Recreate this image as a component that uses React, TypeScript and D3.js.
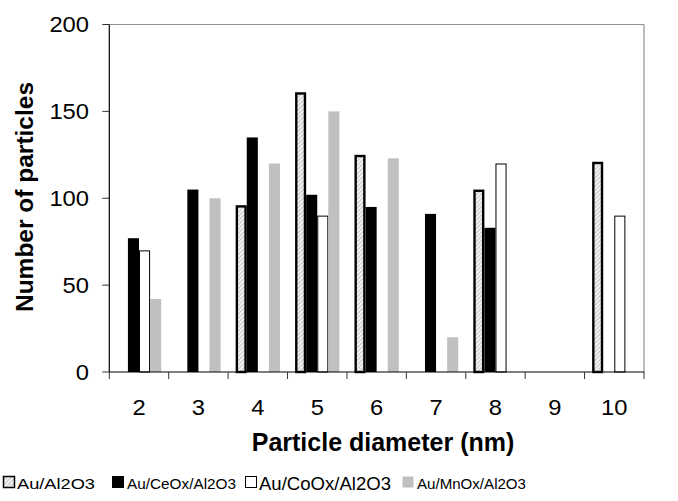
import React from "react";
import * as d3 from "d3";

// Particle size distribution for four gold catalysts
const diameters = ["2", "3", "4", "5", "6", "7", "8", "9", "10"];
const seriesNames = ["Au/Al2O3", "Au/CeOx/Al2O3", "Au/CoOx/Al2O3", "Au/MnOx/Al2O3"];
const auAl2O3 = [0, 0, 96, 161, 125, 0, 105, 0, 121];
const auCeOx = [77, 105, 135, 102, 95, 91, 83, 0, 0];
const auCoOx = [70, 0, 0, 90, 0, 0, 120, 0, 90];
const auMnOx = [42, 100, 120, 150, 123, 20, 0, 0, 0];
const yTicks = [0, 50, 100, 150, 200];

const W = 678;
const H = 501;
const left = 109.3;
const right = 644;
const top = 24.5;
const bottom = 372;

const FONT = "Liberation Sans, Arial, sans-serif";

type Style = { fill: string; stroke: string; sw: number };
const styles: Style[] = [
  { fill: "url(#hatch)", stroke: "#000", sw: 2.4 },
  { fill: "#000", stroke: "none", sw: 0 },
  { fill: "#fff", stroke: "#000", sw: 1 },
  { fill: "#c0c0c0", stroke: "none", sw: 0 },
];

// legend layout: swatch x, text x, font size, stretched text width
const legendItems = [
  { box: 3, text: 17, fs: 15.5, width: 78 },
  { box: 112, text: 127, fs: 15.5, width: 109 },
  { box: 245, text: 259, fs: 18.5, width: 132 },
  { box: 402, text: 417, fs: 15.5, width: 109 },
];

export default function App() {
  const series = [auAl2O3, auCeOx, auCoOx, auMnOx];
  const x = d3.scaleBand<string>().domain(diameters).range([left, right]).padding(0);
  const xs = d3
    .scaleBand<number>()
    .domain([0, 1, 2, 3])
    .range([0, x.bandwidth()])
    .paddingInner(0)
    .paddingOuter(0.68);
  const y = d3.scaleLinear().domain([0, 200]).range([bottom, top]);

  const tickFs = 22;
  const xTickPositions = diameters.map((d) => x(d)!).concat([right]);

  return (
    <svg
      width={W}
      height={H}
      style={{ position: "absolute", left: 0, top: 0, background: "#fff" }}
      fontFamily={FONT}
    >
      <defs>
        <pattern id="hatch" width="3" height="3" patternUnits="userSpaceOnUse" patternTransform="rotate(45)">
          <rect width="3" height="3" fill="#f2f2f2" />
          <line x1="0" y1="0" x2="0" y2="3" stroke="#9a9a9a" strokeWidth="1" />
        </pattern>
      </defs>
      <rect x={0} y={0} width={W} height={H} fill="#fff" />

      {/* plot frame: top and right in grey */}
      <line x1={left} x2={right} y1={top} y2={top} stroke="#909090" strokeWidth={1.2} />
      <line x1={right} x2={right} y1={top} y2={bottom} stroke="#909090" strokeWidth={1.2} />

      {/* bars */}
      {series.map((vals, si) =>
        vals.map((v, ci) => {
          if (!v) return null;
          const st = styles[si];
          const bx = x(diameters[ci])! + xs(si)!;
          const bw = xs.bandwidth();
          const inset = st.sw / 2;
          return (
            <rect
              key={`${si}-${ci}`}
              x={bx + inset}
              y={y(v) + inset}
              width={bw - 2 * inset}
              height={bottom - y(v) - inset}
              fill={st.fill}
              stroke={st.stroke}
              strokeWidth={st.sw}
            />
          );
        })
      )}

      {/* axes */}
      <line x1={left} x2={left} y1={top} y2={bottom} stroke="#000" strokeWidth={1.2} />
      <line x1={left} x2={right} y1={bottom} y2={bottom} stroke="#000" strokeWidth={1.2} />
      {yTicks.map((t) => (
        <g key={t}>
          <line x1={left - 7} x2={left} y1={y(t)} y2={y(t)} stroke="#333" strokeWidth={1} />
          <text
            transform={`translate(89, ${y(t) + tickFs * 0.36}) scale(1.08, 1)`}
            textAnchor="end"
            fontSize={tickFs}
            fill="#000"
          >
            {t}
          </text>
        </g>
      ))}
      {xTickPositions.map((px, i) => (
        <line key={i} x1={px} x2={px} y1={bottom} y2={bottom + 7} stroke="#333" strokeWidth={1} />
      ))}
      {diameters.map((d) => (
        <text
          key={d}
          transform={`translate(${x(d)! + x.bandwidth() / 2}, 415) scale(1.08, 1)`}
          textAnchor="middle"
          fontSize={tickFs}
          fill="#000"
        >
          {d}
        </text>
      ))}

      {/* axis titles */}
      <text x={383} y={451} textAnchor="middle" fontSize={25} fontWeight="bold" fill="#000">
        Particle diameter (nm)
      </text>
      <text
        transform={`translate(33, 197) rotate(-90)`}
        textAnchor="middle"
        fontSize={24.5}
        fontWeight="bold"
        fill="#000"
      >
        Number of particles
      </text>

      {/* legend */}
      {legendItems.map((it, i) => {
        const st = styles[i];
        const size = 11;
        const cy = 483;
        return (
          <g key={i}>
            <rect
              x={it.box + 0.5}
              y={cy - size / 2 - 1}
              width={size}
              height={size}
              fill={st.fill}
              stroke={i === 3 ? "none" : "#000"}
              strokeWidth={i === 0 ? 1.5 : 1}
            />
            <text
              x={it.text}
              y={cy + it.fs * 0.36}
              fontSize={it.fs}
              textLength={it.width}
              lengthAdjust="spacingAndGlyphs"
              fill="#000"
            >
              {seriesNames[i]}
            </text>
          </g>
        );
      })}
    </svg>
  );
}
